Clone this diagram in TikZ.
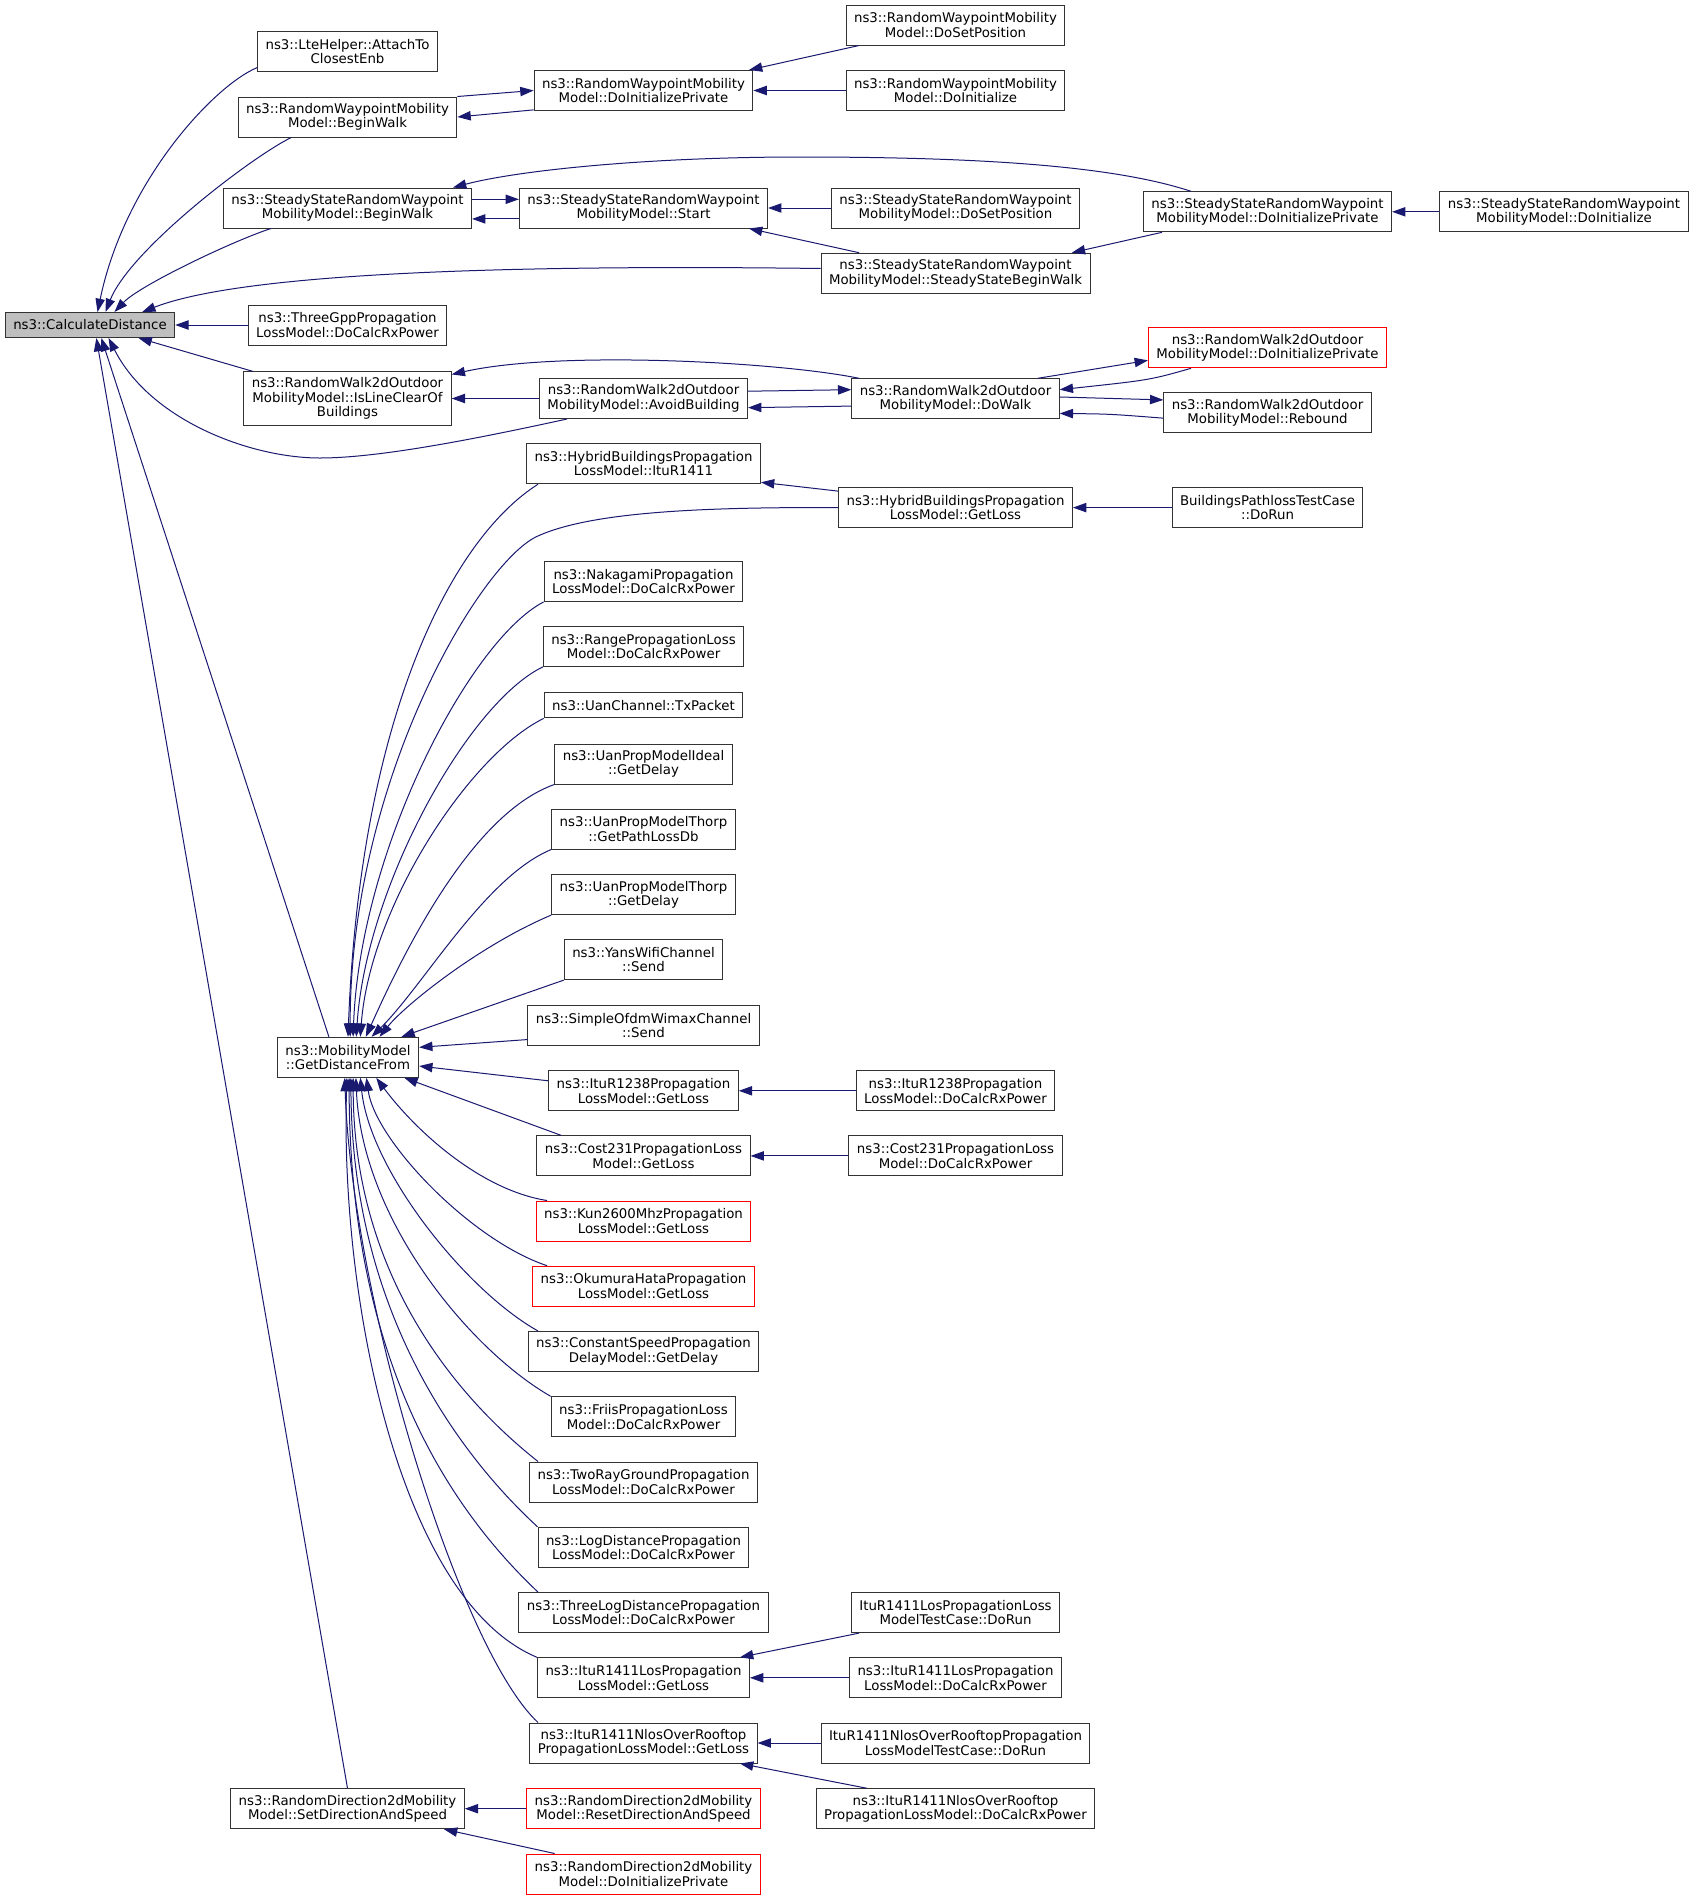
\documentclass[tikz,border=0pt]{standalone}
\usepackage{fontspec}
\setmainfont{DejaVu Sans}
\usetikzlibrary{arrows.meta}
\definecolor{edgeblue}{HTML}{191970}
\definecolor{rootgray}{HTML}{BFBFBF}

\begin{document}
\begin{tikzpicture}[x=0.75pt,y=-0.75pt]
\tikzstyle{every node}=[draw=black!80, fill=white, line width=0.75pt, align=center, inner xsep=6pt, inner ysep=2pt, minimum height=30pt, font=\fontsize{10}{10.9}\selectfont]
\tikzstyle{calls}=[draw=edgeblue, line width=0.75pt, -{Triangle[length=10pt,width=7pt]}]
\tikzstyle{cut}=[draw=red]
\tikzstyle{one}=[minimum height=18.75pt]
\path[fill=white, use as bounding box] (0,0) rectangle (1693,1900);
% root
\draw (90,325) node (cd) [one, fill=rootgray] {ns3::CalculateDistance};
% callers of CalculateDistance
\draw (347.5,51.7) node (lte) {ns3::LteHelper::AttachTo\\ClosestEnb};
\draw (347.5,117) node (rwbw) {ns3::RandomWaypointMobility\\Model::BeginWalk};
\draw (347.5,208) node (ssbw) {ns3::SteadyStateRandomWaypoint\\MobilityModel::BeginWalk};
\draw (347.5,325) node (tgpp) {ns3::ThreeGppPropagation\\LossModel::DoCalcRxPower};
\draw (347.5,398.5) node (ilc) [minimum height=40pt] {ns3::RandomWalk2dOutdoor\\MobilityModel::IsLineClearOf\\Buildings};
\draw (348,1057.3) node (gdf) {ns3::MobilityModel\\::GetDistanceFrom};
\draw (347.5,1808.7) node (rdsd) {ns3::RandomDirection2dMobility\\Model::SetDirectionAndSpeed};
% third column
\draw (643.5,90.5) node (rwdip) {ns3::RandomWaypointMobility\\Model::DoInitializePrivate};
\draw (643.5,208) node (ssst) {ns3::SteadyStateRandomWaypoint\\MobilityModel::Start};
\draw (643.5,398.5) node (avoid) {ns3::RandomWalk2dOutdoor\\MobilityModel::AvoidBuilding};
\draw (643.5,463.7) node (hbitu) {ns3::HybridBuildingsPropagation\\LossModel::ItuR1411};
\draw (643.5,581.4) node (naka) {ns3::NakagamiPropagation\\LossModel::DoCalcRxPower};
\draw (643.5,646.4) node (range) {ns3::RangePropagationLoss\\Model::DoCalcRxPower};
\draw (643.5,705.4) node (uantx) [one] {ns3::UanChannel::TxPacket};
\draw (643.5,764) node (uanid) {ns3::UanPropModelIdeal\\::GetDelay};
\draw (643.5,829) node (thpl) {ns3::UanPropModelThorp\\::GetPathLossDb};
\draw (643.5,894.6) node (thdl) {ns3::UanPropModelThorp\\::GetDelay};
\draw (643.5,959.6) node (yans) {ns3::YansWifiChannel\\::Send};
\draw (643.5,1025.3) node (ofdm) {ns3::SimpleOfdmWimaxChannel\\::Send};
\draw (643.5,1090.8) node (i1238) {ns3::ItuR1238Propagation\\LossModel::GetLoss};
\draw (643.5,1155.9) node (c231) {ns3::Cost231PropagationLoss\\Model::GetLoss};
\draw (643.5,1221) node (kun) [cut] {ns3::Kun2600MhzPropagation\\LossModel::GetLoss};
\draw (643.5,1286.2) node (oku) [cut] {ns3::OkumuraHataPropagation\\LossModel::GetLoss};
\draw (643.5,1351.5) node (csd) {ns3::ConstantSpeedPropagation\\DelayModel::GetDelay};
\draw (643.5,1416.8) node (friis) {ns3::FriisPropagationLoss\\Model::DoCalcRxPower};
\draw (643.5,1482) node (tworay) {ns3::TwoRayGroundPropagation\\LossModel::DoCalcRxPower};
\draw (643.5,1547.3) node (logd) {ns3::LogDistancePropagation\\LossModel::DoCalcRxPower};
\draw (643.5,1612.6) node (tlogd) {ns3::ThreeLogDistancePropagation\\LossModel::DoCalcRxPower};
\draw (643.5,1677.8) node (los) {ns3::ItuR1411LosPropagation\\LossModel::GetLoss};
\draw (643.5,1743) node (nlos) {ns3::ItuR1411NlosOverRooftop\\PropagationLossModel::GetLoss};
\draw (643.5,1808.7) node (rdreset) [cut] {ns3::RandomDirection2dMobility\\Model::ResetDirectionAndSpeed};
\draw (643.5,1874) node (rddip) [cut] {ns3::RandomDirection2dMobility\\Model::DoInitializePrivate};
% fourth column
\draw (955.5,25) node (rwdsp) {ns3::RandomWaypointMobility\\Model::DoSetPosition};
\draw (955.5,90.5) node (rwdi) {ns3::RandomWaypointMobility\\Model::DoInitialize};
\draw (955.5,208) node (ssdsp) {ns3::SteadyStateRandomWaypoint\\MobilityModel::DoSetPosition};
\draw (955.5,273.2) node (sssbw) {ns3::SteadyStateRandomWaypoint\\MobilityModel::SteadyStateBeginWalk};
\draw (955.5,398.8) node (dowalk) {ns3::RandomWalk2dOutdoor\\MobilityModel::DoWalk};
\draw (955.5,507.6) node (hbloss) {ns3::HybridBuildingsPropagation\\LossModel::GetLoss};
\draw (955.5,1090.8) node (i1238rx) {ns3::ItuR1238Propagation\\LossModel::DoCalcRxPower};
\draw (955.5,1155.9) node (c231rx) {ns3::Cost231PropagationLoss\\Model::DoCalcRxPower};
\draw (955.5,1612.6) node (lostc) {ItuR1411LosPropagationLoss\\ModelTestCase::DoRun};
\draw (955.5,1677.8) node (losrx) {ns3::ItuR1411LosPropagation\\LossModel::DoCalcRxPower};
\draw (955.5,1743) node (nlostc) {ItuR1411NlosOverRooftopPropagation\\LossModelTestCase::DoRun};
\draw (955.5,1808.7) node (nlosrx) {ns3::ItuR1411NlosOverRooftop\\PropagationLossModel::DoCalcRxPower};
% fifth and sixth columns
\draw (1267.5,211.8) node (ssdip) {ns3::SteadyStateRandomWaypoint\\MobilityModel::DoInitializePrivate};
\draw (1564,211.8) node (ssdi) {ns3::SteadyStateRandomWaypoint\\MobilityModel::DoInitialize};
\draw (1267.5,347.8) node (rwodip) [cut] {ns3::RandomWalk2dOutdoor\\MobilityModel::DoInitializePrivate};
\draw (1267.5,412.7) node (rebound) {ns3::RandomWalk2dOutdoor\\MobilityModel::Rebound};
\draw (1267.5,507.6) node (bptc) {BuildingsPathlossTestCase\\::DoRun};
% calls into CalculateDistance
\draw[calls] (lte.190) .. controls (215,85) and (125,180) .. (cd.60);
\draw[calls] (rwbw.200) .. controls (250,158) and (130,250) .. (cd.40);
\draw[calls] (ssbw.195.5) .. controls (235,240) and (140,285) .. (cd.28);
\draw[calls] (sssbw.178) .. controls (550,265) and (250,270) .. (cd.14);
\draw[calls] (tgpp.west) -- (cd.east);
\draw[calls] (ilc.164) -- (cd.345);
\draw[calls] (avoid.195.6) .. controls (480,438) and (380,458) .. (320,458) .. controls (250,458) and (150,420) .. (cd.325);
\draw[calls] (gdf.133.5) -- (cd.311);
\draw[calls] (rdsd.north) -- (cd.296);
% random waypoint
\draw[calls] (rwbw.north east) -- (rwdip.west);
\draw[calls] (rwdip.190) -- (rwbw.east);
\draw[calls] (rwdsp.192) -- (rwdip.11);
\draw[calls] (rwdi.west) -- (rwdip.east);
% steady state random waypoint
\draw[calls] (ssbw.4) -- (ssst.176);
\draw[calls] (ssst.185) -- (ssbw.355);
\draw[calls] (ssdip.165.4) .. controls (1120,168) and (1000,157) .. (800,157) .. controls (650,157) and (520,170) .. (ssbw.11.6);
\draw[calls] (ssdsp.west) -- (ssst.east);
\draw[calls] (sssbw.168) -- (ssst.349.6);
\draw[calls] (ssdip.191.4) -- (sssbw.10.4);
\draw[calls] (ssdi.west) -- (ssdip.east);
% random walk 2d outdoor
\draw[calls] (dowalk.168.2) .. controls (780,362) and (560,350) .. (ilc.13);
\draw[calls] (avoid.west) -- (ilc.east);
\draw[calls] (avoid.4.4) -- (dowalk.175.6);
\draw[calls] (dowalk.184.5) -- (avoid.355.6);
\draw[calls] (dowalk.14) -- (rwodip.186);
\draw[calls] (rwodip.195.3) .. controls (1150,380) .. (dowalk.5);
\draw[calls] (dowalk.1.7) -- (rebound.173.4);
\draw[calls] (rebound.183.3) .. controls (1110,414) .. (dowalk.352.5);
% hybrid buildings
\draw[calls] (hbloss.172.7) -- (hbitu.351.8);
\draw[calls] (bptc.west) -- (hbloss.east);
% calls into GetDistanceFrom
\draw[calls] (hbitu.191.9) .. controls (450,540) and (360,720) .. (gdf.90);
\draw[calls] (hbloss.west) .. controls (700,507) and (590,512) .. (537,536.4) .. controls (480,563) and (350,780) .. (gdf.84.3);
\draw[calls] (naka.south west) .. controls (470,640) and (360,850) .. (gdf.76);
\draw[calls] (range.south west) .. controls (468,703) and (366,887) .. (gdf.68.2);
\draw[calls] (uantx.south west) .. controls (469,755) and (370,907) .. (gdf.59);
\draw[calls] (uanid.south west) .. controls (471,814) and (403,954) .. (gdf.49.6);
\draw[calls] (thpl.south west) .. controls (485,877) and (424,985) .. (gdf.41);
\draw[calls] (thdl.south west) .. controls (480,945) and (405,1005) .. (gdf.33.7);
\draw[calls] (yans.south west) -- (gdf.21);
\draw[calls] (ofdm.187) -- (gdf.8);
\draw[calls] (i1238.174.5) -- (gdf.353);
\draw[calls] (c231.166.3) -- (gdf.340.4);
\draw[calls] (kun.168.2) .. controls (480,1190) and (415,1130) .. (gdf.324.5);
\draw[calls] (oku.168.8) .. controls (470,1240) and (375,1140) .. (gdf.312);
\draw[calls] (csd.169.1) .. controls (465,1290) and (370,1170) .. (gdf.301);
\draw[calls] (friis.north west) .. controls (470,1350) and (362,1220) .. (gdf.291.8);
\draw[calls] (tworay.169.4) .. controls (450,1392) and (354,1270) .. (gdf.284);
\draw[calls] (logd.north west) .. controls (450,1446) and (352,1302) .. (gdf.278.5);
\draw[calls] (tlogd.169.2) .. controls (430,1490) and (350,1334) .. (gdf.273);
\draw[calls] (los.north west) .. controls (400,1600) and (340,1300) .. (gdf.267);
\draw[calls] (nlos.169.4) .. controls (460,1650) and (352,1300) .. (gdf.261.5);
% propagation loss callers
\draw[calls] (i1238rx.west) -- (i1238.east);
\draw[calls] (c231rx.west) -- (c231.east);
\draw[calls] (lostc.192) -- (los.12);
\draw[calls] (losrx.west) -- (los.east);
\draw[calls] (nlostc.west) -- (nlos.east);
\draw[calls] (nlosrx.167.9) -- (nlos.348.8);
% random direction 2d
\draw[calls] (rdreset.west) -- (rdsd.east);
\draw[calls] (rddip.167.4) -- (rdsd.348.6);
\end{tikzpicture}
\end{document}
